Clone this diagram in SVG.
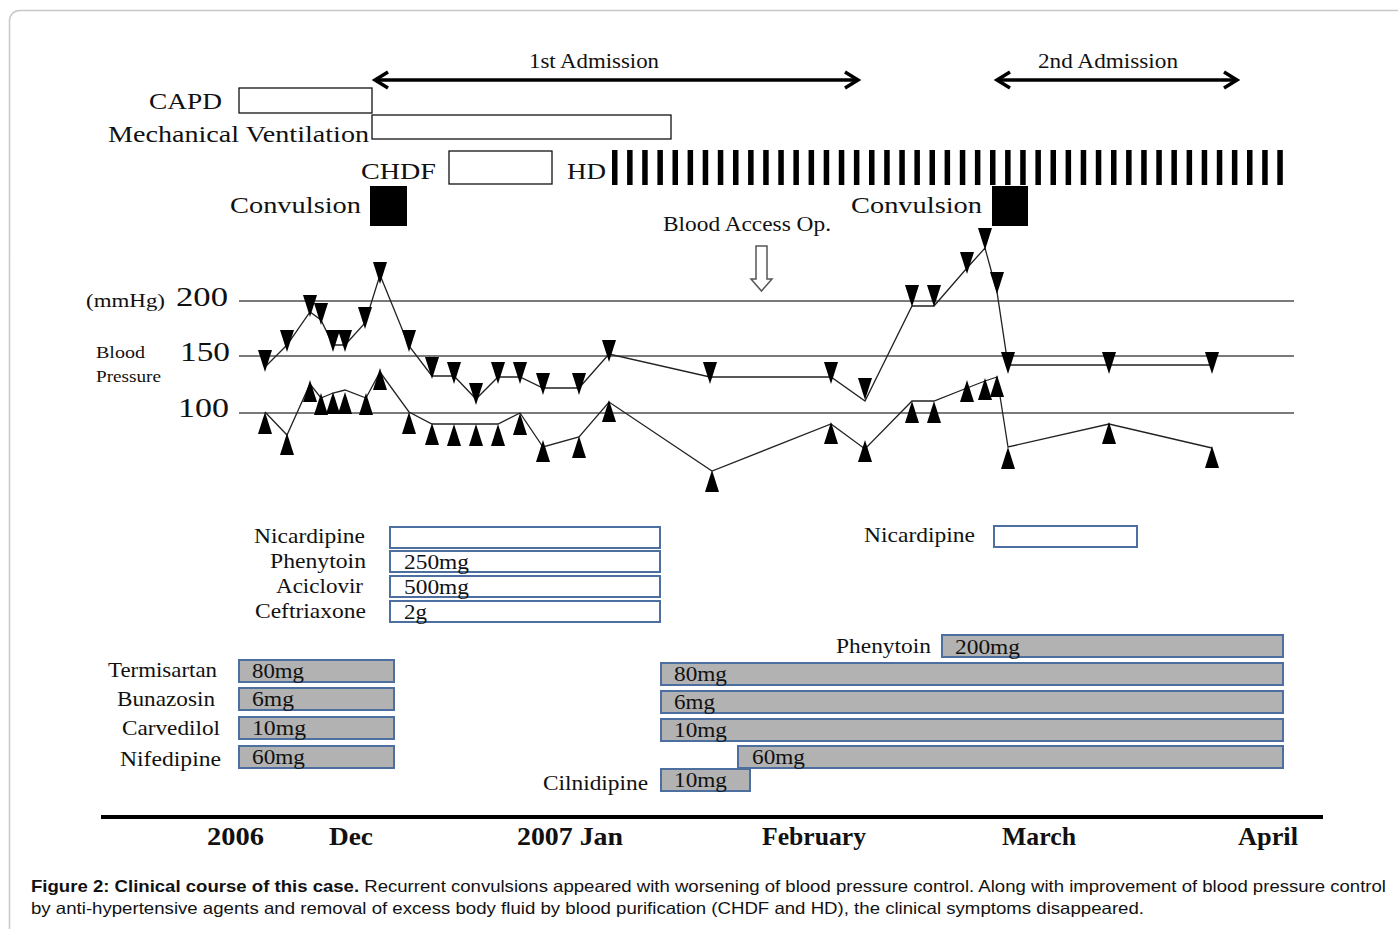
<svg xmlns="http://www.w3.org/2000/svg" xmlns:xlink="http://www.w3.org/1999/xlink" width="1398" height="929" viewBox="0 0 1398 929">
<style>
.t{font-family:"Liberation Serif","Times New Roman",serif;fill:#111}
.cap{font-family:"Liberation Sans",Arial,sans-serif;font-size:16.5px;fill:#111}
.box{fill:#fff;stroke:#111;stroke-width:1.3}
.blk{fill:#000}
.grid{stroke:#7a7a7a;stroke-width:2;fill:none}
.data{stroke:#222;stroke-width:1.3;fill:none}
.wbox{fill:#fff;stroke:#4d6f9f;stroke-width:2}
.gbox{fill:#b2b2b2;stroke:#4d6f9f;stroke-width:2}
.arr{stroke:#000;stroke-width:3.5;fill:none}
</style>
<defs>
<path id="dn" d="M-7,0 L7,0 L0,22 Z" fill="#000"/>
<path id="up" d="M0,0 L7,22 L-7,22 Z" fill="#000"/>
</defs>
<rect x="9.5" y="10.5" width="1420" height="940" rx="10" fill="#fff" stroke="#c8c8c8" stroke-width="1.5"/>

<g id="admission1">
<text class="t" x="529" y="68" font-size="20" textLength="130" lengthAdjust="spacingAndGlyphs">1st Admission</text>
<line class="arr" x1="375" y1="80" x2="857" y2="80"/>
<polyline class="arr" points="388,72 375,80 388,88"/>
<polyline class="arr" points="845,72 858,80 845,88"/>
</g>
<g id="admission2">
<text class="t" x="1038" y="68" font-size="20" textLength="140" lengthAdjust="spacingAndGlyphs">2nd Admission</text>
<line class="arr" x1="997" y1="80" x2="1236" y2="80"/>
<polyline class="arr" points="1010,72 997,80 1010,88"/>
<polyline class="arr" points="1224,72 1237,80 1224,88"/>
</g>

<g id="capd">
<text class="t" x="149" y="109" font-size="24" textLength="73" lengthAdjust="spacingAndGlyphs">CAPD</text>
<rect class="box" x="239" y="88" width="133" height="25"/>
</g>
<g id="mechanical-ventilation">
<text class="t" x="108" y="142" font-size="24" textLength="261" lengthAdjust="spacingAndGlyphs">Mechanical Ventilation</text>
<rect class="box" x="372" y="115" width="299" height="24"/>
</g>
<g id="chdf">
<text class="t" x="361" y="179" font-size="24" textLength="75" lengthAdjust="spacingAndGlyphs">CHDF</text>
<rect class="box" x="449" y="151" width="103" height="33"/>
</g>
<g id="hd">
<text class="t" x="567" y="179" font-size="24" textLength="39" lengthAdjust="spacingAndGlyphs">HD</text>
<g class="blk">
<rect x="612" y="150" width="5.5" height="35"/><rect x="627.1" y="150" width="5.5" height="35"/><rect x="642.2" y="150" width="5.5" height="35"/><rect x="657.4" y="150" width="5.5" height="35"/><rect x="672.5" y="150" width="5.5" height="35"/>
<rect x="687.6" y="150" width="5.5" height="35"/><rect x="702.7" y="150" width="5.5" height="35"/><rect x="717.8" y="150" width="5.5" height="35"/><rect x="733" y="150" width="5.5" height="35"/><rect x="748.1" y="150" width="5.5" height="35"/>
<rect x="763.2" y="150" width="5.5" height="35"/><rect x="778.3" y="150" width="5.5" height="35"/><rect x="793.4" y="150" width="5.5" height="35"/><rect x="808.6" y="150" width="5.5" height="35"/><rect x="823.7" y="150" width="5.5" height="35"/>
<rect x="838.8" y="150" width="5.5" height="35"/><rect x="853.9" y="150" width="5.5" height="35"/><rect x="869" y="150" width="5.5" height="35"/><rect x="884.2" y="150" width="5.5" height="35"/><rect x="899.3" y="150" width="5.5" height="35"/>
<rect x="914.4" y="150" width="5.5" height="35"/><rect x="929.5" y="150" width="5.5" height="35"/><rect x="944.6" y="150" width="5.5" height="35"/><rect x="959.8" y="150" width="5.5" height="35"/><rect x="974.9" y="150" width="5.5" height="35"/>
<rect x="990" y="150" width="5.5" height="35"/><rect x="1005.1" y="150" width="5.5" height="35"/><rect x="1020.2" y="150" width="5.5" height="35"/><rect x="1035.4" y="150" width="5.5" height="35"/><rect x="1050.5" y="150" width="5.5" height="35"/>
<rect x="1065.6" y="150" width="5.5" height="35"/><rect x="1080.7" y="150" width="5.5" height="35"/><rect x="1095.8" y="150" width="5.5" height="35"/><rect x="1111" y="150" width="5.5" height="35"/><rect x="1126.1" y="150" width="5.5" height="35"/>
<rect x="1141.2" y="150" width="5.5" height="35"/><rect x="1156.3" y="150" width="5.5" height="35"/><rect x="1171.4" y="150" width="5.5" height="35"/><rect x="1186.6" y="150" width="5.5" height="35"/><rect x="1201.7" y="150" width="5.5" height="35"/>
<rect x="1216.8" y="150" width="5.5" height="35"/><rect x="1231.9" y="150" width="5.5" height="35"/><rect x="1247" y="150" width="5.5" height="35"/><rect x="1262.2" y="150" width="5.5" height="35"/><rect x="1277.3" y="150" width="5.5" height="35"/>
</g>
</g>
<g id="convulsion1">
<text class="t" x="230" y="213" font-size="24" textLength="131" lengthAdjust="spacingAndGlyphs">Convulsion</text>
<rect class="blk" x="370" y="186" width="37" height="40"/>
</g>
<g id="convulsion2">
<text class="t" x="851" y="213" font-size="24" textLength="131" lengthAdjust="spacingAndGlyphs">Convulsion</text>
<rect class="blk" x="992" y="186" width="36" height="40"/>
</g>
<g id="blood-access-op">
<text class="t" x="663" y="231" font-size="20" textLength="168" lengthAdjust="spacingAndGlyphs">Blood Access Op.</text>
<path d="M756,246 L767,246 L767,279 L772,279 L761.5,291 L751,279 L756,279 Z" fill="#fff" stroke="#555" stroke-width="1.5"/>
</g>

<g id="bp-axis">
<line class="grid" x1="239" y1="301" x2="1294" y2="301"/>
<line class="grid" x1="239" y1="356" x2="1294" y2="356"/>
<line class="grid" x1="239" y1="413" x2="1294" y2="413"/>
<text class="t" x="86" y="307" font-size="19" textLength="79" lengthAdjust="spacingAndGlyphs">(mmHg)</text>
<text class="t" x="176" y="306" font-size="28" textLength="52" lengthAdjust="spacingAndGlyphs">200</text>
<text class="t" x="180" y="361" font-size="28" textLength="50" lengthAdjust="spacingAndGlyphs">150</text>
<text class="t" x="178" y="417" font-size="28" textLength="51" lengthAdjust="spacingAndGlyphs">100</text>
<text class="t" x="96" y="358" font-size="16" textLength="49" lengthAdjust="spacingAndGlyphs">Blood</text>
<text class="t" x="96" y="382" font-size="16" textLength="65" lengthAdjust="spacingAndGlyphs">Pressure</text>
</g>

<g id="connectors">
<polyline class="data" points="265,367 287,345 310,312 321,320 333,345 345,345 365,323 380,275 409,346 432,376 454,376 476,399 498,377 520,377 543,388 579,388 609,354 710,377 831,377 865,401 912,306 934,306 967,268 985,248 997,292 1008,365 1109,365 1212,365"/>
<polyline class="data" points="265,412 287,435 310,384 321,398 333,393 345,390 366,398 380,372 409,412 432,424 498,424 520,413 543,447 579,437 609,402 712,471 831,424 865,449 912,401 934,401 967,388 985,381 997,377 1008,447 1109,424 1212,448"/>
</g>

<g id="systolic">
<use href="#dn" x="265" y="350"/><use href="#dn" x="287" y="330"/><use href="#dn" x="310" y="295"/><use href="#dn" x="321" y="303"/><use href="#dn" x="333" y="330"/><use href="#dn" x="345" y="330"/><use href="#dn" x="365" y="307"/><use href="#dn" x="380" y="262"/><use href="#dn" x="409" y="330"/><use href="#dn" x="432" y="357"/><use href="#dn" x="454" y="362"/><use href="#dn" x="476" y="383"/><use href="#dn" x="498" y="362"/><use href="#dn" x="520" y="362"/><use href="#dn" x="543" y="373"/><use href="#dn" x="579" y="373"/><use href="#dn" x="609" y="340"/><use href="#dn" x="710" y="362"/><use href="#dn" x="831" y="362"/><use href="#dn" x="865" y="378"/><use href="#dn" x="912" y="285"/><use href="#dn" x="934" y="285"/><use href="#dn" x="967" y="252"/><use href="#dn" x="985" y="228"/><use href="#dn" x="997" y="272"/><use href="#dn" x="1008" y="352"/><use href="#dn" x="1109" y="352"/><use href="#dn" x="1212" y="352"/>
</g>
<g id="diastolic">
<use href="#up" x="265" y="412"/><use href="#up" x="287" y="433"/><use href="#up" x="310" y="380"/><use href="#up" x="321" y="393"/><use href="#up" x="333" y="392"/><use href="#up" x="345" y="392"/><use href="#up" x="366" y="393"/><use href="#up" x="380" y="368"/><use href="#up" x="409" y="412"/><use href="#up" x="432" y="423"/><use href="#up" x="454" y="424"/><use href="#up" x="476" y="424"/><use href="#up" x="498" y="424"/><use href="#up" x="520" y="413"/><use href="#up" x="543" y="440"/><use href="#up" x="579" y="436"/><use href="#up" x="609" y="400"/><use href="#up" x="712" y="470"/><use href="#up" x="831" y="422"/><use href="#up" x="865" y="440"/><use href="#up" x="912" y="401"/><use href="#up" x="934" y="401"/><use href="#up" x="967" y="380"/><use href="#up" x="985" y="378"/><use href="#up" x="997" y="375"/><use href="#up" x="1008" y="447"/><use href="#up" x="1109" y="422"/><use href="#up" x="1212" y="446"/>
</g>

<g id="nicardipine1">
<text class="t" x="365" y="543" font-size="21" text-anchor="end" textLength="111" lengthAdjust="spacingAndGlyphs">Nicardipine</text>
<rect class="wbox" x="390" y="527" width="270" height="21"/>
</g>
<g id="phenytoin1">
<text class="t" x="366" y="568" font-size="21" text-anchor="end" textLength="96" lengthAdjust="spacingAndGlyphs">Phenytoin</text>
<rect class="wbox" x="390" y="551" width="270" height="21"/>
<text class="t" x="404" y="569" font-size="21" textLength="65" lengthAdjust="spacingAndGlyphs">250mg</text>
</g>
<g id="aciclovir">
<text class="t" x="363" y="593" font-size="21" text-anchor="end" textLength="87" lengthAdjust="spacingAndGlyphs">Aciclovir</text>
<rect class="wbox" x="390" y="576" width="270" height="21"/>
<text class="t" x="404" y="594" font-size="21" textLength="65" lengthAdjust="spacingAndGlyphs">500mg</text>
</g>
<g id="ceftriaxone">
<text class="t" x="366" y="618" font-size="21" text-anchor="end" textLength="111" lengthAdjust="spacingAndGlyphs">Ceftriaxone</text>
<rect class="wbox" x="390" y="601" width="270" height="21"/>
<text class="t" x="404" y="619" font-size="21" textLength="23" lengthAdjust="spacingAndGlyphs">2g</text>
</g>
<g id="nicardipine2">
<text class="t" x="864" y="542" font-size="21" textLength="111" lengthAdjust="spacingAndGlyphs">Nicardipine</text>
<rect class="wbox" x="994" y="526" width="143" height="21"/>
</g>
<g id="phenytoin2">
<text class="t" x="836" y="653" font-size="21" textLength="95" lengthAdjust="spacingAndGlyphs">Phenytoin</text>
<rect class="gbox" x="942" y="635" width="341" height="22"/>
<text class="t" x="955" y="654" font-size="21" textLength="65" lengthAdjust="spacingAndGlyphs">200mg</text>
</g>

<g id="termisartan">
<text class="t" x="108" y="677" font-size="21" textLength="109" lengthAdjust="spacingAndGlyphs">Termisartan</text>
<rect class="gbox" x="239" y="660" width="155" height="22"/>
<text class="t" x="252" y="678" font-size="21" textLength="52" lengthAdjust="spacingAndGlyphs">80mg</text>
<rect class="gbox" x="661" y="663" width="622" height="22"/>
<text class="t" x="674" y="681" font-size="21" textLength="53" lengthAdjust="spacingAndGlyphs">80mg</text>
</g>
<g id="bunazosin">
<text class="t" x="117" y="706" font-size="21" textLength="98" lengthAdjust="spacingAndGlyphs">Bunazosin</text>
<rect class="gbox" x="239" y="688" width="155" height="22"/>
<text class="t" x="252" y="706" font-size="21" textLength="42" lengthAdjust="spacingAndGlyphs">6mg</text>
<rect class="gbox" x="661" y="691" width="622" height="22"/>
<text class="t" x="674" y="709" font-size="21" textLength="41" lengthAdjust="spacingAndGlyphs">6mg</text>
</g>
<g id="carvedilol">
<text class="t" x="122" y="735" font-size="21" textLength="98" lengthAdjust="spacingAndGlyphs">Carvedilol</text>
<rect class="gbox" x="239" y="717" width="155" height="22"/>
<text class="t" x="252" y="735" font-size="21" textLength="54" lengthAdjust="spacingAndGlyphs">10mg</text>
<rect class="gbox" x="661" y="719" width="622" height="22"/>
<text class="t" x="674" y="737" font-size="21" textLength="53" lengthAdjust="spacingAndGlyphs">10mg</text>
</g>
<g id="nifedipine">
<text class="t" x="120" y="766" font-size="21" textLength="101" lengthAdjust="spacingAndGlyphs">Nifedipine</text>
<rect class="gbox" x="239" y="746" width="155" height="22"/>
<text class="t" x="252" y="764" font-size="21" textLength="53" lengthAdjust="spacingAndGlyphs">60mg</text>
<rect class="gbox" x="738" y="746" width="545" height="22"/>
<text class="t" x="752" y="764" font-size="21" textLength="53" lengthAdjust="spacingAndGlyphs">60mg</text>
</g>
<g id="cilnidipine">
<text class="t" x="543" y="790" font-size="21" textLength="105" lengthAdjust="spacingAndGlyphs">Cilnidipine</text>
<rect class="gbox" x="661" y="769" width="89" height="22"/>
<text class="t" x="674" y="787" font-size="21" textLength="53" lengthAdjust="spacingAndGlyphs">10mg</text>
</g>

<g id="time-axis">
<line x1="101" y1="817" x2="1323" y2="817" stroke="#000" stroke-width="4"/>
<g font-weight="bold">
<text class="t" x="207" y="845" font-size="25" textLength="57" lengthAdjust="spacingAndGlyphs">2006</text>
<text class="t" x="329" y="845" font-size="25" textLength="44" lengthAdjust="spacingAndGlyphs">Dec</text>
<text class="t" x="517" y="845" font-size="25" textLength="106" lengthAdjust="spacingAndGlyphs">2007 Jan</text>
<text class="t" x="762" y="845" font-size="25" textLength="104" lengthAdjust="spacingAndGlyphs">February</text>
<text class="t" x="1002" y="845" font-size="25" textLength="74" lengthAdjust="spacingAndGlyphs">March</text>
<text class="t" x="1238" y="845" font-size="25" textLength="60" lengthAdjust="spacingAndGlyphs">April</text>
</g>
</g>

<g id="caption">
<text class="cap" x="31" y="892" textLength="1355" lengthAdjust="spacingAndGlyphs"><tspan font-weight="bold">Figure 2: Clinical course of this case.</tspan> Recurrent convulsions appeared with worsening of blood pressure control. Along with improvement of blood pressure control</text>
<text class="cap" x="31" y="914" textLength="1113" lengthAdjust="spacingAndGlyphs">by anti-hypertensive agents and removal of excess body fluid by blood purification (CHDF and HD), the clinical symptoms disappeared.</text>
</g>
</svg>
